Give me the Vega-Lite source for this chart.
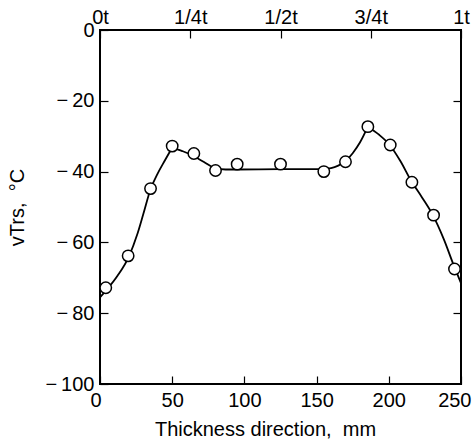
{
  "$schema": "https://vega.github.io/schema/vega-lite/v6.json",
  "width": 361,
  "height": 354,
  "autosize": {"type": "none"},
  "padding": {"left": 100, "top": 30, "right": 11, "bottom": 60},
  "background": "white",
  "config": {
    "view": {"stroke": "black", "strokeWidth": 2},
    "font": "Liberation Sans",
    "axis": {
      "grid": false,
      "domain": false,
      "tickColor": "black",
      "tickWidth": 1.2,
      "tickSize": -8,
      "labelColor": "black",
      "titleColor": "black",
      "labelFont": "Liberation Sans",
      "titleFont": "Liberation Sans",
      "labelFontSize": 20,
      "titleFontSize": 20,
      "titleFontWeight": "normal"
    }
  },
  "datasets": {
    "curve": [
      {"seg": "a", "mm": 0, "vtrs": -75.5},
      {"seg": "a", "mm": 5, "vtrs": -73.2},
      {"seg": "a", "mm": 12, "vtrs": -69.5},
      {"seg": "a", "mm": 20, "vtrs": -64},
      {"seg": "a", "mm": 26, "vtrs": -57.5},
      {"seg": "a", "mm": 30, "vtrs": -52},
      {"seg": "a", "mm": 35, "vtrs": -45},
      {"seg": "a", "mm": 40, "vtrs": -40.5},
      {"seg": "a", "mm": 45, "vtrs": -36.8},
      {"seg": "a", "mm": 50, "vtrs": -33.2},
      {"seg": "b", "mm": 50, "vtrs": -33.2},
      {"seg": "b", "mm": 57, "vtrs": -34.2},
      {"seg": "b", "mm": 64, "vtrs": -35.4},
      {"seg": "b", "mm": 72, "vtrs": -37.3},
      {"seg": "b", "mm": 80, "vtrs": -39.1},
      {"seg": "b", "mm": 87, "vtrs": -39.4},
      {"seg": "b", "mm": 95, "vtrs": -39.4},
      {"seg": "b", "mm": 125, "vtrs": -39.3},
      {"seg": "b", "mm": 152, "vtrs": -39.3},
      {"seg": "b", "mm": 160, "vtrs": -39},
      {"seg": "b", "mm": 165, "vtrs": -38.3},
      {"seg": "b", "mm": 170, "vtrs": -37},
      {"seg": "b", "mm": 175, "vtrs": -34.8},
      {"seg": "b", "mm": 180, "vtrs": -31.8},
      {"seg": "b", "mm": 185.5, "vtrs": -27.3},
      {"seg": "c", "mm": 185.5, "vtrs": -27.3},
      {"seg": "c", "mm": 193, "vtrs": -29.5},
      {"seg": "c", "mm": 200.5, "vtrs": -32.4},
      {"seg": "c", "mm": 208, "vtrs": -37},
      {"seg": "c", "mm": 215.5, "vtrs": -42.6},
      {"seg": "c", "mm": 223, "vtrs": -47.3},
      {"seg": "c", "mm": 230.5, "vtrs": -52.3},
      {"seg": "c", "mm": 238, "vtrs": -59},
      {"seg": "c", "mm": 245, "vtrs": -66.5},
      {"seg": "c", "mm": 250, "vtrs": -71.5}
    ],
    "measured": [
      {"mm": 4, "vtrs": -72.8},
      {"mm": 19.5, "vtrs": -63.8},
      {"mm": 35, "vtrs": -44.8},
      {"mm": 50, "vtrs": -32.8},
      {"mm": 65, "vtrs": -34.9},
      {"mm": 80, "vtrs": -39.7},
      {"mm": 95, "vtrs": -37.9},
      {"mm": 125, "vtrs": -37.9},
      {"mm": 155, "vtrs": -40},
      {"mm": 170, "vtrs": -37.2},
      {"mm": 185.5, "vtrs": -27.3},
      {"mm": 201, "vtrs": -32.5},
      {"mm": 216, "vtrs": -43},
      {"mm": 231, "vtrs": -52.3},
      {"mm": 245.5, "vtrs": -67.5}
    ]
  },
  "layer": [
    {
      "data": {"name": "curve"},
      "mark": {"type": "line", "interpolate": "monotone", "color": "black", "strokeWidth": 1.8},
      "encoding": {
        "x": {
          "field": "mm",
          "type": "quantitative",
          "scale": {"domain": [0, 250], "nice": false, "zero": false},
          "axis": {
            "orient": "bottom",
            "values": [0, 50, 100, 150, 200, 250],
            "labelFlush": true,
            "labelFlushOffset": 10,
            "labelPadding": 14,
            "title": "Thickness direction,\u00a0\u00a0mm",
            "titleX": 165,
            "titleY": 51,
            "titleAlign": "center",
            "titleBaseline": "alphabetic"
          }
        },
        "y": {
          "field": "vtrs",
          "type": "quantitative",
          "scale": {"domain": [-100, 0], "nice": false, "zero": false},
          "axis": {
            "orient": "left",
            "values": [0, -20, -40, -60, -80, -100],
            "labelExpr": "datum.value == 0 ? '0' : '−\u2009' + format(-datum.value, 'd')",
            "labelPadding": 14,
            "title": "vTrs,\u00a0\u00a0°C",
            "titleX": -83,
            "titleY": 177,
            "titleAngle": -90,
            "titleAlign": "center",
            "titleBaseline": "middle"
          }
        },
        "detail": {"field": "seg"}
      }
    },
    {
      "data": {"name": "measured"},
      "mark": {"type": "point", "shape": "circle", "filled": true, "fill": "white", "stroke": "black", "strokeWidth": 1.5, "size": 130, "opacity": 1},
      "encoding": {
        "x": {
          "field": "mm",
          "type": "quantitative",
          "scale": {"domain": [0, 250], "nice": false, "zero": false},
          "axis": {
            "orient": "top",
            "values": [0, 62.5, 125, 187.5, 250],
            "labelExpr": "datum.value == 0 ? '0t' : datum.value == 62.5 ? '1/4t' : datum.value == 125 ? '1/2t' : datum.value == 187.5 ? '3/4t' : '1t'",
            "labelFlush": false,
            "labelPadding": 11,
            "title": null
          }
        },
        "y": {
          "field": "vtrs",
          "type": "quantitative",
          "scale": {"domain": [-100, 0], "nice": false, "zero": false},
          "axis": {
            "orient": "right",
            "values": [-20, -40, -60, -80],
            "labels": false,
            "title": null
          }
        }
      }
    }
  ],
  "resolve": {"axis": {"x": "independent", "y": "independent"}}
}
